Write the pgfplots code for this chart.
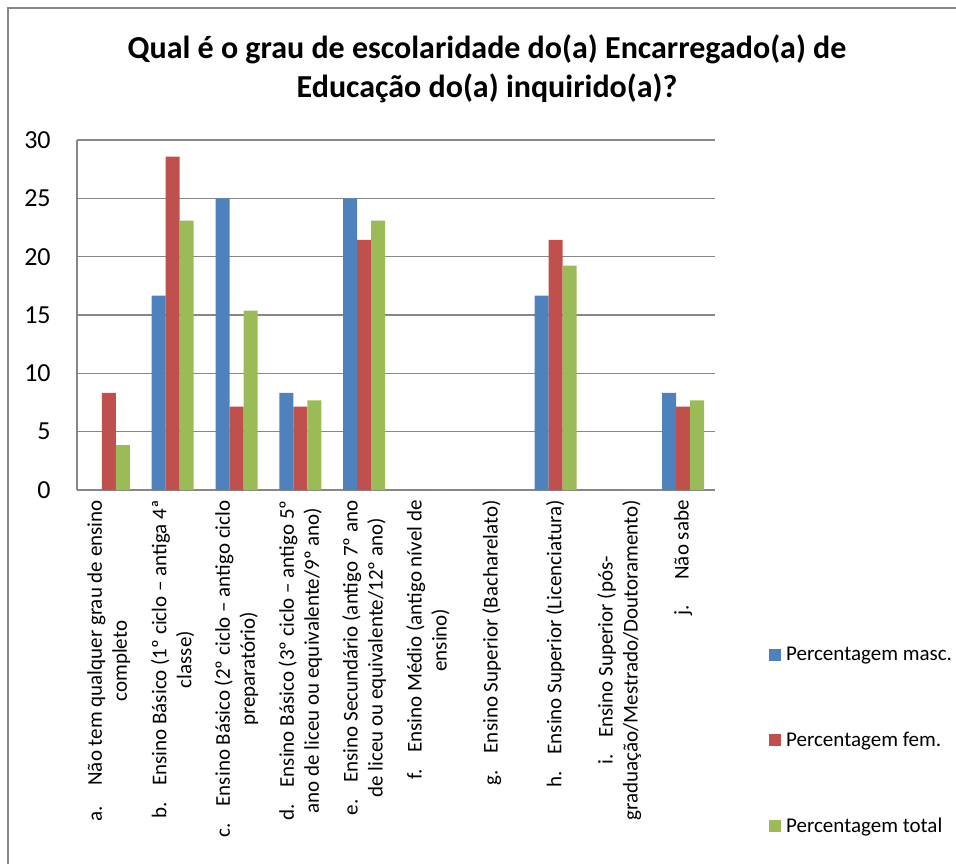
\documentclass[border=0pt]{standalone}
\usepackage{pgfplots}
\usepackage{pgfplotstable}
\pgfplotsset{compat=1.18}
\usepackage{fontspec}
\setmainfont{Carlito}
\definecolor{cblue}{HTML}{4F81BD}
\definecolor{cred}{HTML}{C0504D}
\definecolor{cgreen}{HTML}{9BBB59}
\definecolor{cgrid}{HTML}{878787}
\pgfplotstableread{
x m f t
0 0 8.33 3.85
1 16.67 28.57 23.08
2 25 7.14 15.38
3 8.33 7.14 7.69
4 25 21.43 23.08
5 0 0 0
6 0 0 0
7 16.67 21.43 19.23
8 0 0 0
9 8.33 7.14 7.69
}\datatable
\begin{document}
\begin{tikzpicture}[x=1pt,y=1pt]
\useasboundingbox (0,0) rectangle (956,-863);
\draw[cgrid, line width=1.5pt] (8,-870) -- (8,-8) -- (960,-8);
\node[font=\fontsize{32}{39}\selectfont\bfseries, align=center] at (487,-69) {Qual é o grau de escolaridade do(a) Encarregado(a) de\\Educação do(a) inquirido(a)?};
\begin{axis}[
 at={(77pt,-490pt)}, anchor=south west,
 scale only axis, width=638pt, height=350pt,
 ybar=0pt, bar width=14pt,
 xmin=-0.5, xmax=9.5, ymin=0, ymax=30,
 ytick={0,5,...,30},
 xtick={0,...,9},
 xticklabels={
  {a.\hspace{1em}Não tem qualquer grau de ensino\\completo},
  {b.\hspace{0.8em}Ensino Básico (1º ciclo – antiga 4ª\\classe)},
  {c.\hspace{0.8em}Ensino Básico (2º ciclo – antigo ciclo\\preparatório)},
  {d.\hspace{0.8em}Ensino Básico (3º ciclo – antigo 5º\\ano de liceu ou equivalente/9º ano)},
  {e.\hspace{0.8em}Ensino Secundário (antigo 7º ano\\de liceu ou equivalente/12º ano)},
  {f.\hspace{0.8em}Ensino Médio (antigo nível de\\ensino)},
  {g.\hspace{0.8em}Ensino Superior (Bacharelato)},
  {h.\hspace{0.8em}Ensino Superior (Licenciatura)},
  {i.\hspace{0.8em}Ensino Superior (pós-\\graduação/Mestrado/Doutoramento)},
  {j.\hspace{1.2em}Não sabe}},
 xticklabel style={rotate=90, anchor=east, align=center, inner xsep=8pt, inner ysep=0pt,
   font=\fontsize{21}{25}\selectfont},
 yticklabel style={font=\fontsize{26}{30}\selectfont, inner xsep=0pt, xshift=-24pt},
 /pgf/number format/assume math mode=true,
 axis x line=bottom, axis y line=left,
 axis line style={cgrid, line width=1.3pt, -},
 tick style={draw=none},
 ymajorgrids, grid style={cgrid, line width=1.3pt},
 legend style={at={(1.0846,-0.4429)}, anchor=north west, draw=none, fill=none,
   font=\fontsize{21}{25}\selectfont, row sep=66pt, inner sep=0pt},
 legend cell align=left,
 legend image code/.code={\path (0pt,0pt) -- (15pt,0pt); \fill[#1] (0pt,-6pt) rectangle (12pt,6pt);},
]
\addplot[fill=cblue, draw=none] table[x=x,y=m] {\datatable};
\addplot[fill=cred, draw=none] table[x=x,y=f] {\datatable};
\addplot[fill=cgreen, draw=none] table[x=x,y=t] {\datatable};
\legend{Percentagem masc., Percentagem fem., Percentagem total}
\end{axis}
\end{tikzpicture}
\end{document}
